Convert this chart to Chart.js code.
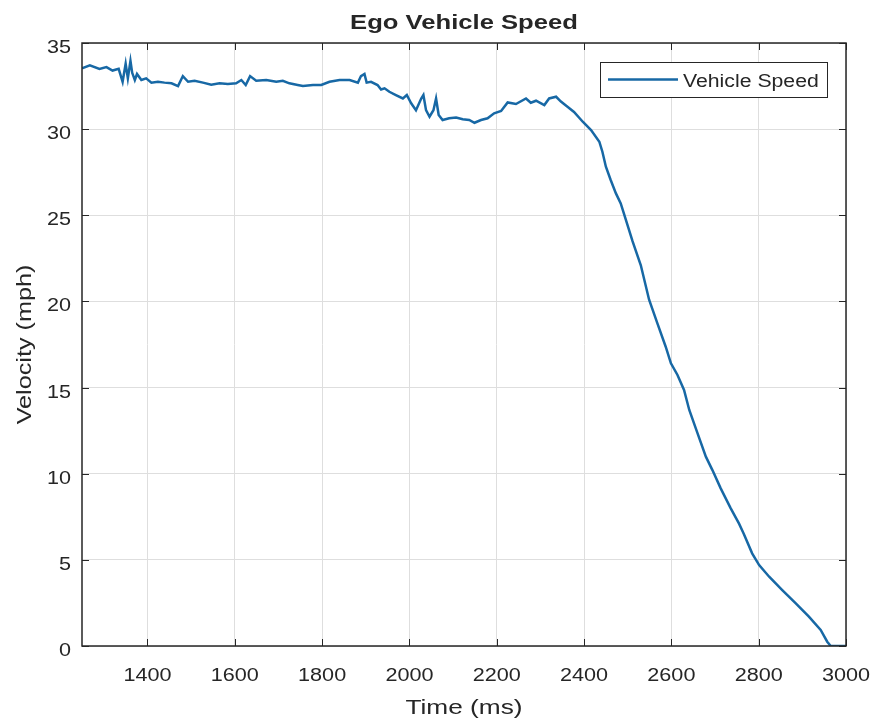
<!DOCTYPE html>
<html>
<head>
<meta charset="utf-8">
<title>Ego Vehicle Speed</title>
<script src="https://cdn.jsdelivr.net/npm/chart.js@4.4.1/dist/chart.umd.min.js"></script>
<style>
  html, body { margin: 0; padding: 0; background: #fff; }
  canvas { display: block; }
</style>
</head>
<body>
<canvas id="speedChart" width="877" height="725"></canvas>
<script>
// speed trace, time in ms
const timeMs = [
  1250, 1268, 1290, 1306, 1320, 1334, 1343, 1350, 1355, 1361,
  1365, 1371, 1376, 1386, 1397, 1409, 1424, 1439, 1455, 1470,
  1481, 1493, 1508, 1527, 1546, 1565, 1584, 1603, 1615, 1625,
  1635, 1649, 1672, 1695, 1710, 1725, 1744, 1756, 1779, 1798,
  1817, 1840, 1863, 1882, 1889, 1897, 1902, 1912, 1927, 1935,
  1943, 1954, 1969, 1985, 1994, 2004, 2015, 2027, 2032, 2038,
  2046, 2055, 2061, 2067, 2076, 2091, 2107, 2122, 2137, 2149,
  2164, 2179, 2194, 2210, 2225, 2244, 2267, 2278, 2290, 2309,
  2320, 2336, 2347, 2362, 2377, 2397, 2416, 2435, 2442, 2450,
  2461, 2473, 2484, 2496, 2511, 2530, 2549, 2568, 2587, 2599,
  2614, 2629, 2641, 2660, 2679, 2694, 2713, 2736, 2755, 2766,
  2785, 2801, 2824, 2854, 2885, 2915, 2942, 2957, 2965, 2991,
  3000
];
const speedMph = [
  33.53, 33.70, 33.50, 33.60, 33.40, 33.50, 32.75, 33.80, 32.95, 33.97,
  33.27, 32.85, 33.20, 32.85, 32.95, 32.70, 32.75, 32.70, 32.66, 32.50,
  33.08, 32.75, 32.81, 32.70, 32.58, 32.66, 32.62, 32.66, 32.85, 32.56,
  33.08, 32.81, 32.85, 32.75, 32.81, 32.66, 32.56, 32.50, 32.56, 32.56,
  32.75, 32.85, 32.85, 32.70, 33.08, 33.20, 32.70, 32.75, 32.56, 32.30,
  32.37, 32.17, 31.98, 31.78, 31.98, 31.50, 31.10, 31.78, 31.98, 31.10,
  30.72, 31.10, 31.78, 30.82, 30.53, 30.63, 30.68, 30.57, 30.53, 30.37,
  30.53, 30.63, 30.92, 31.05, 31.55, 31.46, 31.78, 31.53, 31.65, 31.40,
  31.78, 31.88, 31.60, 31.30, 31.00, 30.43, 29.95, 29.27, 28.69, 27.82,
  27.05, 26.27, 25.69, 24.72, 23.50, 22.10, 20.10, 18.73, 17.37, 16.41,
  15.73, 14.86, 13.70, 12.34, 10.99, 10.21, 9.15, 7.99, 7.10, 6.50,
  5.38, 4.70, 4.02, 3.25, 2.48, 1.70, 0.93, 0.25, 0, 0,
  0
];
const xTicks = [1400, 1600, 1800, 2000, 2200, 2400, 2600, 2800, 3000];
const yTicks = [0, 5, 10, 15, 20, 25, 30, 35];

const TEXT = '#262626';
const FONT = '"Liberation Sans", Arial, sans-serif';

// fillText stretched along the text direction, anchored by align at (x, y)
function wideText(ctx, str, x, y, font, align, stretch = 1.2, angle = 0) {
  ctx.save();
  ctx.font = font;
  ctx.fillStyle = TEXT;
  ctx.textAlign = 'left';
  ctx.textBaseline = 'alphabetic';
  const w = ctx.measureText(str).width * stretch;
  let shift = 0;
  if (align === 'center') shift = -w / 2;
  if (align === 'right') shift = -w;
  ctx.translate(x, y);
  ctx.rotate(angle);
  ctx.translate(shift, 0);
  ctx.scale(stretch, 1);
  ctx.fillText(str, 0, 0);
  ctx.restore();
}

// box, inward ticks, tick labels, titles and legend
const axesDecor = {
  id: 'axesDecor',
  afterDraw(chart) {
    const ctx = chart.ctx;
    const a = chart.chartArea;
    const xs = chart.scales.x, ys = chart.scales.y;
    const tl = 7;

    ctx.save();
    ctx.strokeStyle = TEXT;
    ctx.lineWidth = 1;
    ctx.beginPath();
    xs.ticks.forEach(t => {
      const px = Math.round(xs.getPixelForValue(t.value)) + 0.5;
      ctx.moveTo(px, a.bottom); ctx.lineTo(px, a.bottom - tl);
      ctx.moveTo(px, a.top); ctx.lineTo(px, a.top + tl);
    });
    ys.ticks.forEach(t => {
      const py = Math.round(ys.getPixelForValue(t.value)) + 0.5;
      ctx.moveTo(a.left, py); ctx.lineTo(a.left + tl, py);
      ctx.moveTo(a.right, py); ctx.lineTo(a.right - tl, py);
    });
    ctx.stroke();
    ctx.lineWidth = 1.5;
    ctx.strokeRect(a.left, a.top, a.right - a.left, a.bottom - a.top);
    ctx.restore();

    const tickFont = '18px ' + FONT;
    xs.ticks.forEach(t => {
      wideText(ctx, String(t.value), xs.getPixelForValue(t.value), a.bottom + 35, tickFont, 'center');
    });
    ys.ticks.forEach(t => {
      wideText(ctx, String(t.value), a.left - 11, ys.getPixelForValue(t.value) + 10, tickFont, 'right');
    });

    const midX = (a.left + a.right) / 2;
    const midY = (a.top + a.bottom) / 2;
    wideText(ctx, 'Ego Vehicle Speed', midX, 29, 'bold 21px ' + FONT, 'center', 1.22);
    wideText(ctx, 'Time (ms)', midX, 714, '21px ' + FONT, 'center', 1.25);
    wideText(ctx, 'Velocity (mph)', 31, midY, '21px ' + FONT, 'center', 1.2, -Math.PI / 2);

    // legend box in the upper right corner
    const ds = chart.data.datasets[0];
    const lx = 600, ly = 62, lw = 227, lh = 35;
    ctx.save();
    ctx.fillStyle = '#fff';
    ctx.fillRect(lx, ly, lw, lh);
    ctx.strokeStyle = TEXT;
    ctx.lineWidth = 1;
    ctx.strokeRect(lx + 0.5, ly + 0.5, lw, lh);
    ctx.strokeStyle = ds.borderColor;
    ctx.lineWidth = ds.borderWidth;
    ctx.beginPath();
    ctx.moveTo(lx + 8, ly + 17.5);
    ctx.lineTo(lx + 78, ly + 17.5);
    ctx.stroke();
    ctx.restore();
    wideText(ctx, ds.label, lx + 83, ly + 25, '18px ' + FONT, 'left', 1.18);
  }
};

new Chart(document.getElementById('speedChart'), {
  type: 'line',
  data: {
    datasets: [{
      label: 'Vehicle Speed',
      data: timeMs.map((t, i) => ({ x: t, y: speedMph[i] })),
      borderColor: '#1768a5',
      borderWidth: 2.5,
      pointRadius: 0,
      tension: 0,
      fill: false
    }]
  },
  options: {
    responsive: false,
    animation: false,
    events: [],
    layout: { padding: { top: 43, right: 31, left: 0, bottom: 0 } },
    plugins: {
      legend: { display: false },
      title: { display: false },
      tooltip: { enabled: false }
    },
    scales: {
      x: {
        type: 'linear',
        min: 1250,
        max: 3000,
        afterBuildTicks: s => { s.ticks = xTicks.map(v => ({ value: v })); },
        afterFit: s => { s.height = 79; },
        ticks: { display: false },
        grid: { color: '#dedede', lineWidth: 1, drawTicks: false },
        border: { display: false }
      },
      y: {
        min: 0,
        max: 35,
        afterBuildTicks: s => { s.ticks = yTicks.map(v => ({ value: v })); },
        afterFit: s => { s.width = 82; },
        ticks: { display: false },
        grid: { color: '#dedede', lineWidth: 1, drawTicks: false },
        border: { display: false }
      }
    }
  },
  plugins: [axesDecor]
});
</script>
</body>
</html>
